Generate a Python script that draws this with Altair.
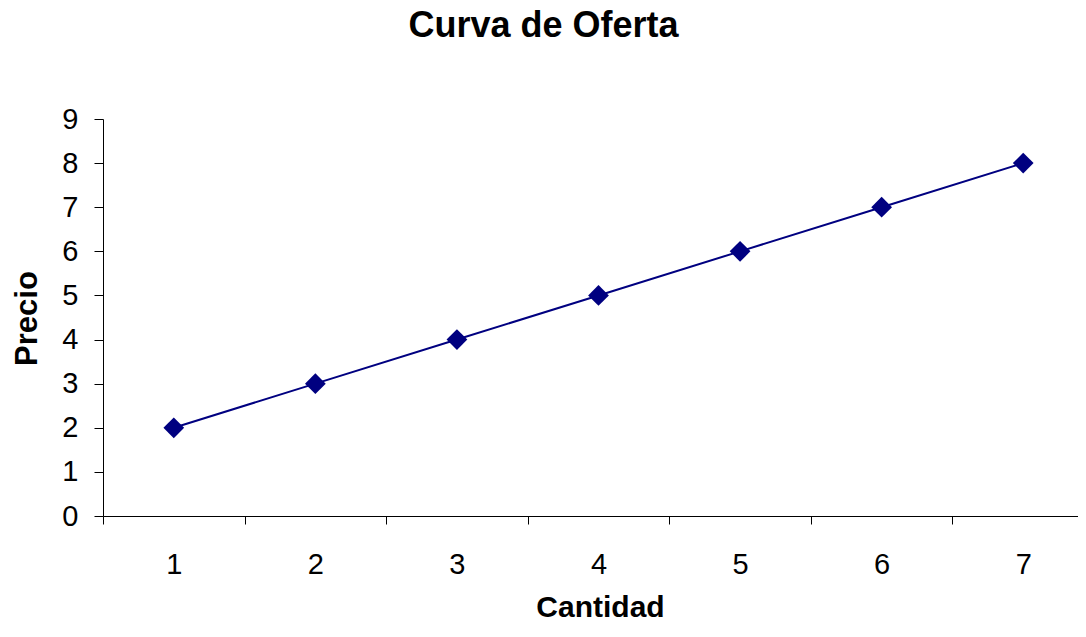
import altair as alt
import pandas as pd

cantidad = [1, 2, 3, 4, 5, 6, 7]
precio = [2, 3, 4, 5, 6, 7, 8]
y_ticks = [0, 1, 2, 3, 4, 5, 6, 7, 8, 9]
# category centres and the band edges between them (Excel category axis)
x_axis_values = [0.5, 1, 1.5, 2, 2.5, 3, 3.5, 4, 4.5, 5, 5.5, 6, 6.5, 7]

df = pd.DataFrame({"Cantidad": cantidad, "Precio": precio})

FONT = "Liberation Sans"
NAVY = "#000080"

PLOT_W = 975
# full category axis would be 991px wide for 7 categories; only PLOT_W fit in the window
X_DOMAIN = [0.5, 0.5 + 7 * PLOT_W / 991]

x_enc = alt.X(
    "Cantidad:Q",
    scale=alt.Scale(domain=X_DOMAIN, nice=False, zero=False),
    axis=alt.Axis(
        title="Cantidad",
        values=x_axis_values,
        grid=False,
        labelAngle=0,
        labelExpr="datum.value % 1 === 0 ? format(datum.value, 'd') : ''",
        tickOpacity={"condition": {"test": "datum.value % 1 === 0", "value": 0}, "value": 1},
        tickSize=8,
        tickColor="#000000",
        domainColor="#000000",
        labelFontSize=29,
        labelFont=FONT,
        labelColor="#000000",
        labelBaseline="alphabetic",
        labelPadding=49,
        labelFlush=False,
        labelOverlap=False,
        titleFont=FONT,
        titleFontSize=30,
        titleFontWeight="bold",
        titleColor="#000000",
        titleBaseline="alphabetic",
        titleX=497,
        titleY=100,
        titleAnchor="middle",
    ),
)

y_enc = alt.Y(
    "Precio:Q",
    scale=alt.Scale(domain=[0, 9], nice=False, zero=True),
    axis=alt.Axis(
        title="Precio",
        values=y_ticks,
        grid=False,
        tickSize=9,
        tickColor="#000000",
        domainColor="#000000",
        labelFontSize=29,
        labelFont=FONT,
        labelColor="#000000",
        labelPadding=16,
        titleFont=FONT,
        titleFontSize=31,
        titleFontWeight="bold",
        titleColor="#000000",
        titleAngle=-90,
        titleBaseline="middle",
        titleX=-76,
        titleY=199,
        titleAnchor="middle",
    ),
)

base = alt.Chart(df).encode(x=x_enc, y=y_enc)
line = base.mark_line(color=NAVY, strokeWidth=2)
pts = base.mark_point(shape="diamond", filled=True, color=NAVY, size=430, opacity=1)

chart = (
    alt.layer(line, pts)
    .properties(
        width=PLOT_W,
        height=397,
        view=alt.ViewBackground(stroke="#ffffff", fill="#ffffff"),
        title=alt.TitleParams(
            "Curva de Oferta",
            font=FONT,
            fontSize=36,
            fontWeight="bold",
            color="#000000",
            anchor="middle",
            frame="group",
            dx=-47,
            offset=60,
        ),
        autosize=alt.AutoSizeParams(type="none"),
        padding={"left": 95, "top": 111, "right": 0, "bottom": 107},
    )
    .configure_view(stroke="#ffffff", fill="#ffffff")
    .configure_axis(grid=False)
    .configure(background="#ffffff")
)

chart.save("out.html", embed_options={"renderer": "svg", "actions": False})
